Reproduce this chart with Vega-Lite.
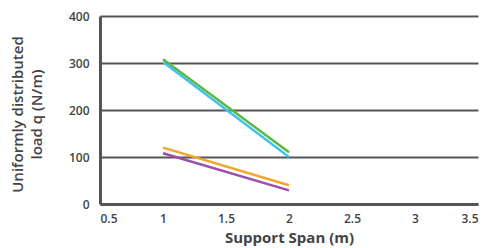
{
  "$schema": "https://vega.github.io/schema/vega-lite/v6.json",
  "width": 378,
  "height": 188,
  "autosize": "none",
  "padding": {"left": 100, "top": 16, "right": 12, "bottom": 44},
  "background": "white",
  "config": {
    "view": {"stroke": null},
    "font": "Open Sans",
    "axis": {"labelFont": "Open Sans", "titleFont": "Open Sans"}
  },
  "data": {
    "values": [
      {"span": 1, "q": 308, "series": "A"},
      {"span": 2, "q": 110, "series": "A"},
      {"span": 1, "q": 302, "series": "B"},
      {"span": 2, "q": 100, "series": "B"},
      {"span": 1, "q": 120, "series": "C"},
      {"span": 2, "q": 40, "series": "C"},
      {"span": 1, "q": 108, "series": "D"},
      {"span": 2, "q": 29, "series": "D"}
    ]
  },
  "mark": {"type": "line", "strokeWidth": 2.5},
  "encoding": {
    "x": {
      "field": "span",
      "type": "quantitative",
      "scale": {"domain": [0.5, 3.5], "nice": false, "zero": false},
      "axis": {
        "values": [0.5, 1, 1.5, 2, 2.5, 3, 3.5],
        "format": "~g",
        "grid": false,
        "ticks": false,
        "domainColor": "#555",
        "domainWidth": 3,
        "labelFontSize": 12,
        "labelFontWeight": 600,
        "labelColor": "#444",
        "labelPadding": 9,
        "title": "Support Span (m)",
        "titleFontSize": 15,
        "titleFontWeight": "bold",
        "titleColor": "#444",
        "titlePadding": 6
      }
    },
    "y": {
      "field": "q",
      "type": "quantitative",
      "scale": {"domain": [0, 400], "nice": false},
      "axis": {
        "values": [0, 100, 200, 300, 400],
        "grid": true,
        "gridColor": "#555",
        "gridWidth": 2,
        "ticks": false,
        "domainColor": "#555",
        "domainWidth": 3,
        "labelFontSize": 12,
        "labelFontWeight": 600,
        "labelColor": "#444",
        "labelPadding": 11,
        "title": ["Uniformly distributed", "load q (N/m)"],
        "titleFontSize": 15,
        "titleFontWeight": 600,
        "titleColor": "#444",
        "titleAngle": -90,
        "titleAlign": "center",
        "titleBaseline": "top",
        "titleX": -90,
        "titleY": 98,
        "titleLineHeight": 19
      }
    },
    "color": {
      "field": "series",
      "type": "nominal",
      "scale": {"domain": ["A", "B", "C", "D"], "range": ["#5db83e", "#3cc4ef", "#f4a52c", "#9a4fae"]},
      "legend": null
    }
  }
}
